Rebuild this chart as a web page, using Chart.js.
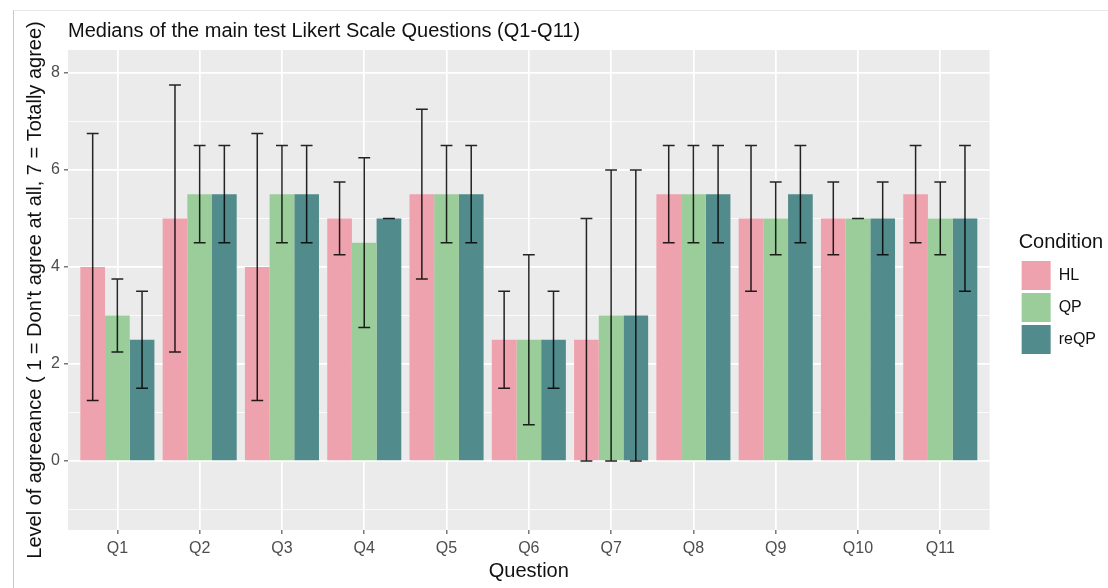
<!DOCTYPE html>
<html>
<head>
<meta charset="utf-8">
<title>Medians of the main test Likert Scale Questions</title>
<script src="https://cdn.jsdelivr.net/npm/chart.js@4/dist/chart.umd.min.js"></script>
<style>
    body { margin: 0; background: #fff; }
    #wrap { position: relative; width: 1108px; height: 588px; }
    #frame { position: absolute; left: 13px; top: 10px; right: 0; bottom: 0; border-left: 1px solid #c8c8c8; border-top: 1px solid #e8e8e8; pointer-events: none; }
</style>
</head>
<body>
<div id="wrap">
    <canvas id="likertChart" width="1108" height="588"></canvas>
    <div id="frame"></div>
</div>
<script>
// Questions on the x axis
var categories = ['Q1', 'Q2', 'Q3', 'Q4', 'Q5', 'Q6', 'Q7', 'Q8', 'Q9', 'Q10', 'Q11'];
var conditions = ['HL', 'QP', 'reQP'];

// medians per condition
var hlMedian   = [4, 5, 4, 5, 5.5, 2.5, 2.5, 5.5, 5, 5, 5.5];
var qpMedian   = [3, 5.5, 5.5, 4.5, 5.5, 2.5, 3, 5.5, 5, 5, 5];
var reqpMedian = [2.5, 5.5, 5.5, 5, 5.5, 2.5, 3, 5.5, 5.5, 5, 5];

// error bar ends
var hlLow    = [1.25, 2.25, 1.25, 4.25, 3.75, 1.5, 0, 4.5, 3.5, 4.25, 4.5];
var hlHigh   = [6.75, 7.75, 6.75, 5.75, 7.25, 3.5, 5, 6.5, 6.5, 5.75, 6.5];
var qpLow    = [2.25, 4.5, 4.5, 2.75, 4.5, 0.75, 0, 4.5, 4.25, 5, 4.25];
var qpHigh   = [3.75, 6.5, 6.5, 6.25, 6.5, 4.25, 6, 6.5, 5.75, 5, 5.75];
var reqpLow  = [1.5, 4.5, 4.5, 5, 4.5, 1.5, 0, 4.5, 4.5, 4.25, 3.5];
var reqpHigh = [3.5, 6.5, 6.5, 5, 6.5, 3.5, 6, 6.5, 6.5, 5.75, 6.5];

var yTicks = [0, 2, 4, 6, 8];

var lows = [hlLow, qpLow, reqpLow];
var highs = [hlHigh, qpHigh, reqpHigh];
var colors = ['#EEA2AD', '#9BCD9B', '#528B8B'];
var medians = [hlMedian, qpMedian, reqpMedian];

var fontFamily = "'Liberation Sans', Arial, sans-serif";

function toPoints(values) {
    return values.map((v, i) => ({ x: i + 1, y: v }));
}

// grey ggplot panel
var panelBackground = {
    id: 'panelBackground',
    beforeDraw: function (chart) {
        var area = chart.chartArea;
        var ctx = chart.ctx;
        ctx.save();
        ctx.fillStyle = '#EBEBEB';
        ctx.fillRect(area.left, area.top, area.right - area.left, area.bottom - area.top);
        ctx.restore();
    }
};

// error bars drawn on top of each bar
var errorBars = {
    id: 'errorBars',
    afterDatasetsDraw: function (chart) {
        var ctx = chart.ctx;
        var yScale = chart.scales.y;
        ctx.save();
        ctx.strokeStyle = 'rgba(0,0,0,0.85)';
        ctx.lineWidth = 1.5;
        chart.data.datasets.forEach(function (ds, i) {
            var meta = chart.getDatasetMeta(i);
            meta.data.forEach(function (bar, j) {
                var yLo = yScale.getPixelForValue(lows[i][j]);
                var yHi = yScale.getPixelForValue(highs[i][j]);
                var half = bar.width * 0.24;
                ctx.beginPath();
                ctx.moveTo(bar.x, yLo);
                ctx.lineTo(bar.x, yHi);
                ctx.moveTo(bar.x - half, yLo);
                ctx.lineTo(bar.x + half, yLo);
                ctx.moveTo(bar.x - half, yHi);
                ctx.lineTo(bar.x + half, yHi);
                ctx.stroke();
            });
        });
        ctx.restore();
    }
};

var ctx = document.getElementById('likertChart').getContext('2d');
new Chart(ctx, {
    type: 'bar',
    data: {
        datasets: conditions.map((name, i) => ({
            label: name,
            data: toPoints(medians[i]),
            backgroundColor: colors[i],
            borderWidth: 0,
            categoryPercentage: 0.9,
            barPercentage: 1.0
        }))
    },
    options: {
        responsive: false,
        animation: false,
        devicePixelRatio: 1,
        layout: {
            padding: { left: 20, right: 2, top: 0, bottom: 0 }
        },
        plugins: {
            tooltip: { enabled: false },
            title: {
                display: true,
                text: 'Medians of the main test Likert Scale Questions (Q1-Q11)',
                align: 'start',
                fullSize: false,
                color: '#111',
                font: { family: fontFamily, size: 20, weight: 'normal', lineHeight: 1.2 },
                padding: { top: 19.5, bottom: 6.5 }
            },
            legend: {
                position: 'right',
                align: 'center',
                title: {
                    display: true,
                    text: 'Condition',
                    position: 'start',
                    color: '#111',
                    font: { family: fontFamily, size: 20, lineHeight: 1.2 },
                    padding: { top: 1, bottom: 2 }
                },
                labels: {
                    boxWidth: 29,
                    boxHeight: 29,
                    padding: 3,
                    color: '#111',
                    font: { family: fontFamily, size: 16 }
                }
            }
        },
        scales: {
            x: {
                type: 'linear',
                min: 0.4,
                max: 11.6,
                offset: false,
                ticks: {
                    stepSize: 1,
                    includeBounds: false,
                    color: '#4D4D4D',
                    padding: 5,
                    font: { family: fontFamily, size: 16 },
                    callback: function (value) {
                        return categories[value - 1] || '';
                    }
                },
                grid: {
                    offset: false,
                    color: '#FFFFFF',
                    lineWidth: 1.7,
                    tickColor: '#333333',
                    tickLength: 4,
                    tickWidth: 1
                },
                border: { display: false },
                title: {
                    display: true,
                    text: 'Question',
                    color: '#111',
                    font: { family: fontFamily, size: 20, lineHeight: 1.2 },
                    padding: { top: 0, bottom: 4.5 }
                },
                afterFit: function (scale) {
                    scale.height = 58;
                }
            },
            y: {
                min: -1.42,
                max: 8.47,
                ticks: {
                    stepSize: 1,
                    includeBounds: false,
                    color: '#4D4D4D',
                    padding: 4,
                    font: { family: fontFamily, size: 16 },
                    callback: function (value) {
                        return yTicks.indexOf(value) >= 0 ? String(value) : '';
                    }
                },
                grid: {
                    color: '#FFFFFF',
                    lineWidth: function (c) {
                        return yTicks.indexOf(c.tick.value) >= 0 ? 1.7 : 0.8;
                    },
                    tickColor: function (c) {
                        return yTicks.indexOf(c.tick.value) >= 0 ? '#333333' : 'rgba(0,0,0,0)';
                    },
                    tickLength: 4,
                    tickWidth: 1
                },
                border: { display: false },
                title: {
                    display: true,
                    text: "Level of agreeance ( 1 = Don't agree at all, 7 = Totally agree)",
                    color: '#111',
                    font: { family: fontFamily, size: 20, lineHeight: 1.2 },
                    padding: { top: 3, bottom: 0 }
                },
                afterFit: function (scale) {
                    scale.width = 48;
                }
            },
            // empty axis that keeps the gap between panel and legend
            gap: {
                type: 'linear',
                position: 'right',
                display: true,
                ticks: { display: false },
                grid: { display: false },
                border: { display: false },
                afterFit: function (scale) {
                    scale.width = 29;
                }
            }
        }
    },
    plugins: [panelBackground, errorBars]
});
</script>
</body>
</html>
